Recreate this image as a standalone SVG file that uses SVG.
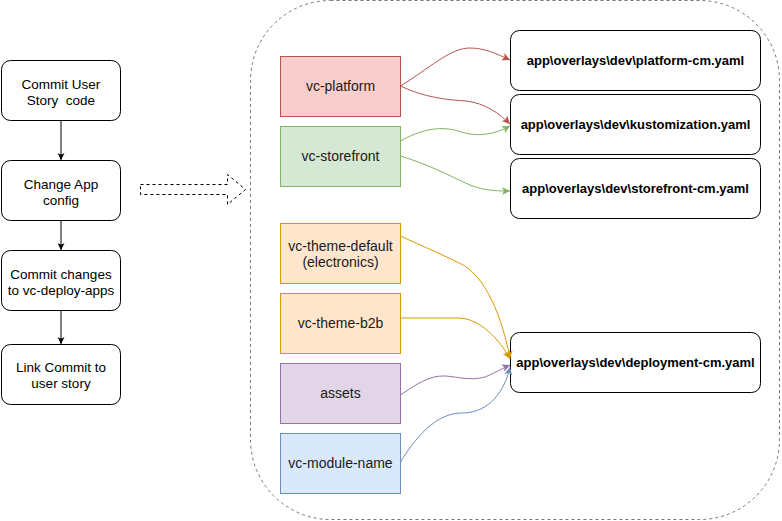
<svg xmlns="http://www.w3.org/2000/svg" width="782" height="521" viewBox="0 0 782 521">
<defs>
<style>
.step rect{fill:#fff;stroke:#000;stroke-width:1}
.step text{font-family:"Liberation Sans",Arial,sans-serif;font-size:13.5px;fill:#000;text-anchor:middle}
.repo text{font-family:"Liberation Sans",Arial,sans-serif;font-size:14px;fill:#1a1a1a;text-anchor:middle}
.yaml rect{fill:#fff;stroke:#000;stroke-width:1}
.yaml text{font-family:"Liberation Sans",Arial,sans-serif;font-size:13px;font-weight:bold;fill:#000;text-anchor:middle}
.c{fill:none;stroke-width:1}
</style>
<marker id="ab" viewBox="0 0 10 10" refX="10" refY="5" markerWidth="7" markerHeight="7" orient="auto" markerUnits="userSpaceOnUse"><path d="M0,0 L10,5 L0,10 L2.5,5 Z" fill="#000"/></marker>
<marker id="ar" viewBox="0 0 10 10" refX="10" refY="5" markerWidth="8" markerHeight="8" orient="auto" markerUnits="userSpaceOnUse"><path d="M0,0 L10,5 L0,10 L2.5,5 Z" fill="#b85450"/></marker>
<marker id="ag" viewBox="0 0 10 10" refX="10" refY="5" markerWidth="8" markerHeight="8" orient="auto" markerUnits="userSpaceOnUse"><path d="M0,0 L10,5 L0,10 L2.5,5 Z" fill="#82b366"/></marker>
<marker id="ao" viewBox="0 0 10 10" refX="10" refY="5" markerWidth="8" markerHeight="8" orient="auto" markerUnits="userSpaceOnUse"><path d="M0,0 L10,5 L0,10 L2.5,5 Z" fill="#d79b00"/></marker>
<marker id="ap" viewBox="0 0 10 10" refX="10" refY="5" markerWidth="8" markerHeight="8" orient="auto" markerUnits="userSpaceOnUse"><path d="M0,0 L10,5 L0,10 L2.5,5 Z" fill="#9673a6"/></marker>
<marker id="au" viewBox="0 0 10 10" refX="10" refY="5" markerWidth="8" markerHeight="8" orient="auto" markerUnits="userSpaceOnUse"><path d="M0,0 L10,5 L0,10 L2.5,5 Z" fill="#6c8ebf"/></marker>
</defs>
<rect width="782" height="521" fill="#fff"/>

<g id="container">
<rect x="250.5" y="0.5" width="529" height="519" rx="80" ry="80" fill="none" stroke="#777" stroke-dasharray="3,3"/>
</g>

<g id="step1" class="step"><rect x="1.5" y="60.5" width="119" height="60" rx="9"/><text x="61" y="89">Commit User</text><text x="61" y="105">Story&#160; code</text></g>
<g id="step2" class="step"><rect x="1.5" y="160.5" width="119" height="60" rx="9"/><text x="61" y="189">Change App</text><text x="61" y="205">config</text></g>
<g id="step3" class="step"><rect x="1.5" y="250.5" width="119" height="60" rx="9"/><text x="61" y="279">Commit changes</text><text x="61" y="295">to vc-deploy-apps</text></g>
<g id="step4" class="step"><rect x="1.5" y="344.5" width="119" height="60" rx="9"/><text x="61" y="372">Link Commit to</text><text x="61" y="388">user story</text></g>

<g id="bigarrow">
<polygon points="140.5,184.5 227.5,184.5 227.5,174.5 245.5,189.5 227.5,204.5 227.5,194.5 140.5,194.5" fill="#fff" stroke="#000" stroke-dasharray="3,3"/>
</g>

<g id="vc-platform" class="repo"><rect x="280.5" y="56.5" width="120" height="60" fill="#f8cecc" stroke="#b85450"/><text x="340.5" y="91">vc-platform</text></g>
<g id="vc-storefront" class="repo"><rect x="280.5" y="126.5" width="120" height="60" fill="#d5e8d4" stroke="#82b366"/><text x="340.5" y="161">vc-storefront</text></g>
<g id="vc-theme-default" class="repo"><rect x="280.5" y="223.5" width="120" height="60" fill="#ffe6cc" stroke="#d79b00"/><text x="340.5" y="251">vc-theme-default</text><text x="340.5" y="267">(electronics)</text></g>
<g id="vc-theme-b2b" class="repo"><rect x="280.5" y="293.5" width="120" height="60" fill="#ffe6cc" stroke="#d79b00"/><text x="340.5" y="328">vc-theme-b2b</text></g>
<g id="assets" class="repo"><rect x="280.5" y="363.5" width="120" height="60" fill="#e1d5e7" stroke="#9673a6"/><text x="340.5" y="398">assets</text></g>
<g id="vc-module-name" class="repo"><rect x="280.5" y="433.5" width="120" height="60" fill="#dae8fc" stroke="#6c8ebf"/><text x="340.5" y="468">vc-module-name</text></g>

<g id="platform-cm" class="yaml"><rect x="510.5" y="30.5" width="250" height="60" rx="9"/><text x="635.5" y="65">app\overlays\dev\platform-cm.yaml</text></g>
<g id="kustomization" class="yaml"><rect x="510.5" y="94.5" width="250" height="60" rx="9"/><text x="635.5" y="129">app\overlays\dev\kustomization.yaml</text></g>
<g id="storefront-cm" class="yaml"><rect x="510.5" y="158.5" width="250" height="60" rx="9"/><text x="635.5" y="193">app\overlays\dev\storefront-cm.yaml</text></g>
<g id="deployment-cm" class="yaml"><rect x="510.5" y="332.5" width="250" height="60" rx="9"/><text x="635.5" y="367">app\overlays\dev\deployment-cm.yaml</text></g>

<g id="connectors">
<path d="M61,120.5 V160" class="c" stroke="#000" marker-end="url(#ab)"/>
<path d="M61,220.5 V250" class="c" stroke="#000" marker-end="url(#ab)"/>
<path d="M61,310.5 V344" class="c" stroke="#000" marker-end="url(#ab)"/>
<path d="M400.5,86 C430,68 450,48 470,48 C485,48 497,54 510,60" class="c" stroke="#b85450" marker-end="url(#ar)"/>
<path d="M400.5,86 C425,98 450,100 466,101 C485,103 500,114 510,124" class="c" stroke="#b85450" marker-end="url(#ar)"/>
<path d="M400.5,141 C418,131 438,125 458,131 C478,138 495,134 510,126" class="c" stroke="#82b366" marker-end="url(#ag)"/>
<path d="M400.5,156 C430,165 450,176 470,185 C485,191 498,191 510,191" class="c" stroke="#82b366" marker-end="url(#ag)"/>
<path d="M400.5,236 C420,245 450,258 463,265 C490,280 505,330 510,359" class="c" stroke="#d79b00" marker-end="url(#ao)"/>
<path d="M400.5,318 L458,318 C480,318 500,340 510,359" class="c" stroke="#d79b00" marker-end="url(#ao)"/>
<path d="M400.5,395 C415,385 430,375 445,376 C460,377 470,381 485,377 C495,373 503,368 510,365" class="c" stroke="#9673a6" marker-end="url(#ap)"/>
<path d="M400.5,462 C420,430 440,413 462,413 C490,413 505,390 510,367" class="c" stroke="#6c8ebf" marker-end="url(#au)"/>
</g>
</svg>
